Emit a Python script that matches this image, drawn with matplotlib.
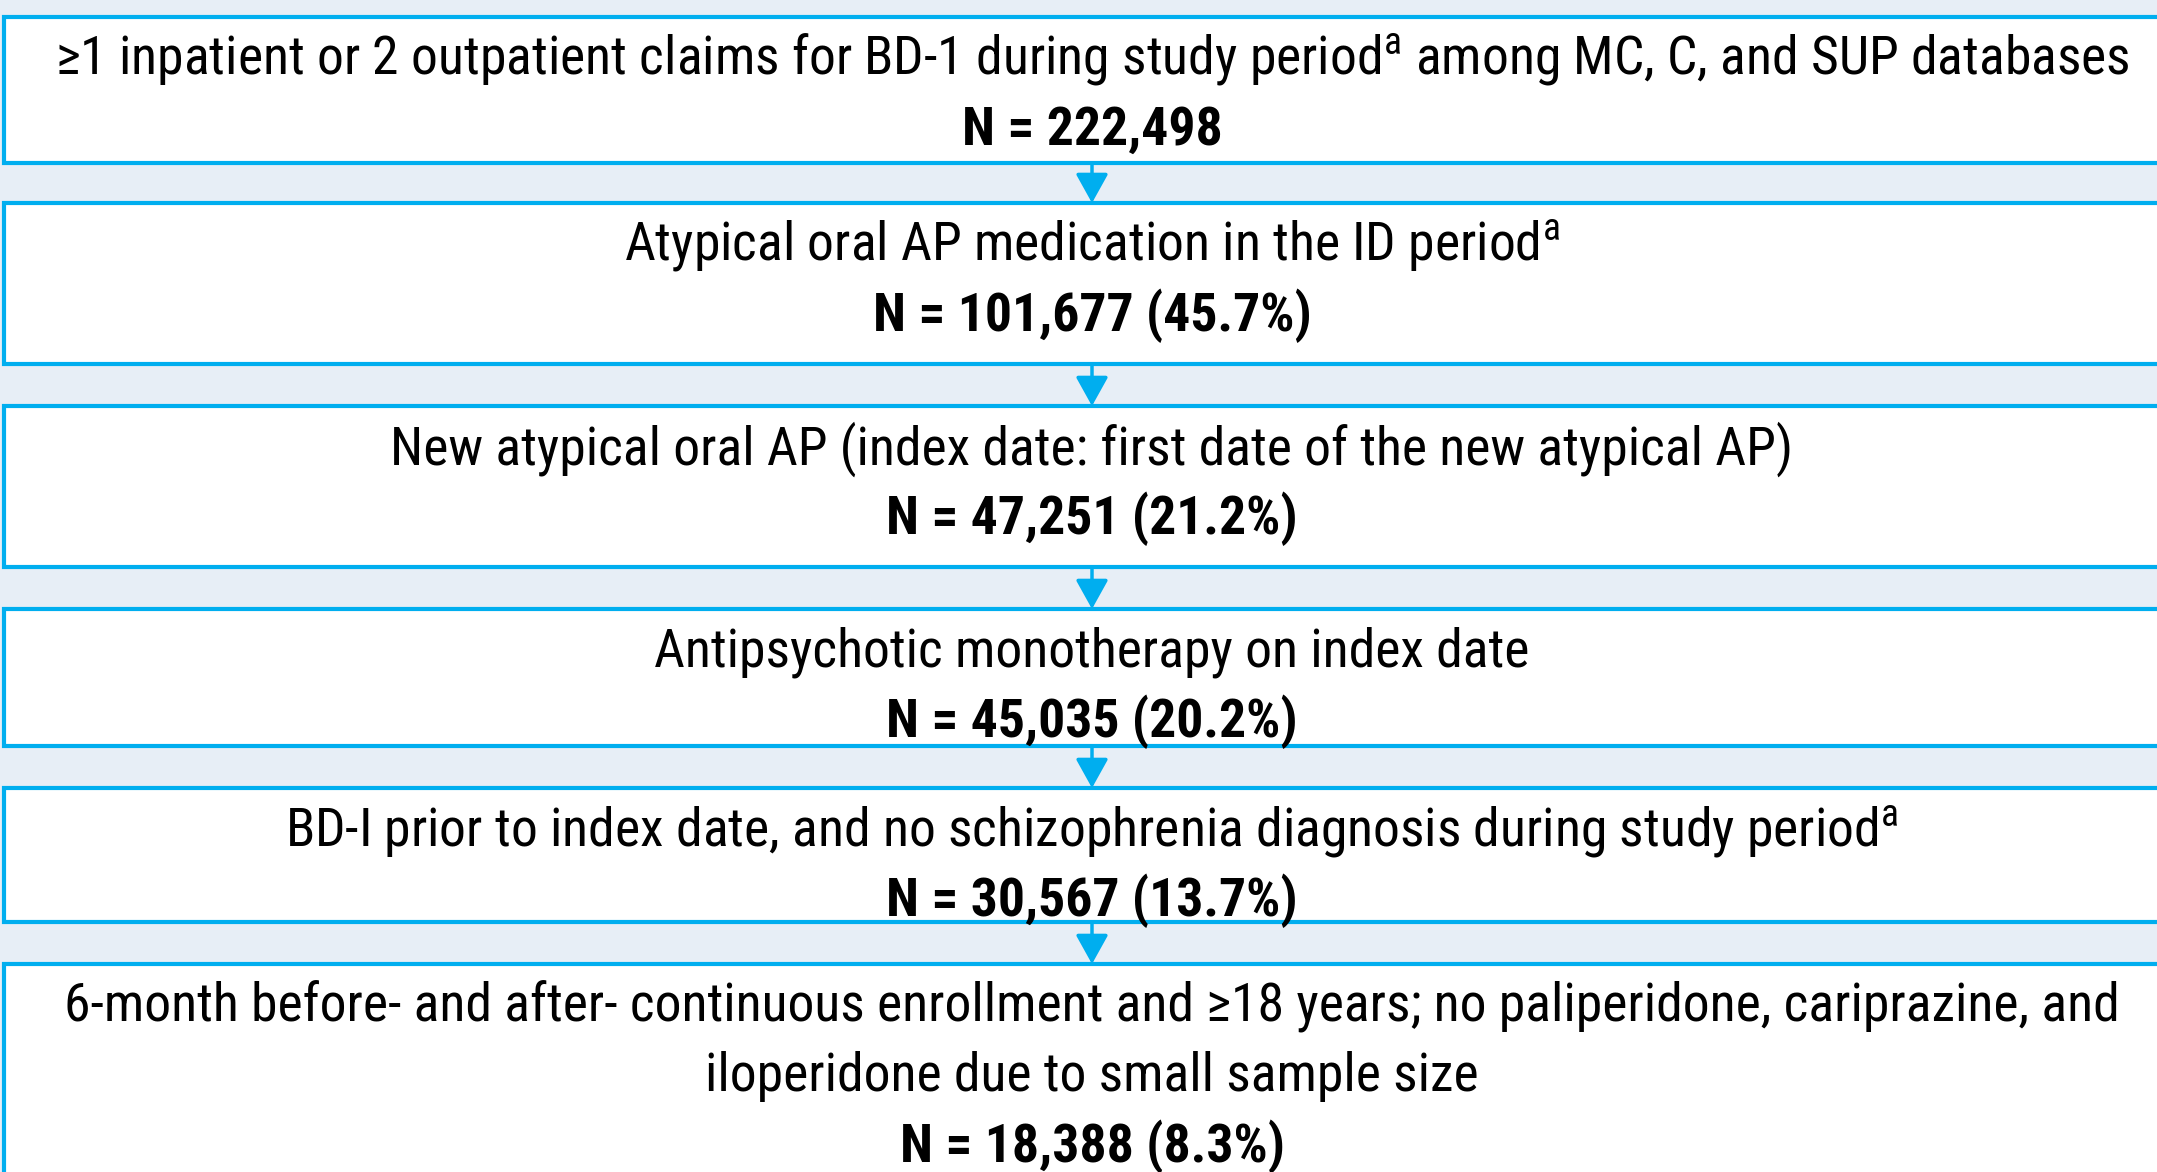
import matplotlib
matplotlib.use("Agg")
import matplotlib.pyplot as plt
from matplotlib import font_manager as fm
from matplotlib.patches import Rectangle

# Flow chart data
criteria = [
    "≥1 inpatient or 2 outpatient claims for BD-1 during study period$^{\\mathrm{a}}$ among MC, C, and SUP databases",
    "Atypical oral AP medication in the ID period$^{\\mathrm{a}}$",
    "New atypical oral AP (index date: first date of the new atypical AP)",
    "Antipsychotic monotherapy on index date",
    "BD-I prior to index date, and no schizophrenia diagnosis during study period$^{\\mathrm{a}}$",
    "6-month before- and after- continuous enrollment and ≥18 years; no paliperidone, cariprazine, and\niloperidone due to small sample size",
]
counts = [222498, 101677, 47251, 45035, 30567, 18388]
pcts = [None, 45.7, 21.2, 20.2, 13.7, 8.3]


# pick a narrow Arial-like face that has a static bold file
def has_face(name, weight):
    try:
        path = fm.findfont(fm.FontProperties(family=name, weight=weight), fallback_to_default=False)
    except ValueError:
        return False
    if weight == "bold":
        return "bold" in path.lower()
    return True


narrow = "DejaVu Sans"
for cand in ["Liberation Sans Narrow", "Arial Narrow", "Roboto Condensed", "PT Sans Narrow",
             "Archivo Narrow", "Asap Condensed"]:
    if has_face(cand, "normal") and has_face(cand, "bold"):
        narrow = cand
        break

plt.rcParams["font.family"] = [narrow, "DejaVu Sans"]
plt.rcParams["mathtext.fontset"] = "custom"
plt.rcParams["mathtext.rm"] = narrow

W, H = 2157, 1172
fig = plt.figure(figsize=(W / 100, H / 100), dpi=100)
fig.patch.set_facecolor("#E7EEF6")
ax = fig.add_axes([0, 0, 1, 1])
ax.set_xlim(0, W)
ax.set_ylim(H, 0)
ax.axis("off")

border = "#00AEEF"
tops = [17, 203, 406, 609, 788, 964]
bots = [163, 364, 567, 746, 922, 1200]
cx = 1092
line_gap = 70
fs = 38.6

for i, (crit, n, p) in enumerate(zip(criteria, counts, pcts)):
    ax.add_patch(Rectangle((4, tops[i]), W + 20, bots[i] - tops[i], facecolor="white",
                           edgecolor=border, linewidth=3, zorder=1))
    lines = crit.split("\n")
    y0 = tops[i] + 43
    for k, ln in enumerate(lines):
        ax.text(cx, y0 + k * line_gap, ln, ha="center", va="center", fontsize=fs, color="black")
    label = f"N = {n:,}" if p is None else f"N = {n:,} ({p}%)"
    ax.text(cx, y0 + len(lines) * line_gap, label, ha="center", va="center",
            fontsize=fs, fontweight="bold", color="black")
    if i < len(criteria) - 1:
        ax.annotate("", xy=(cx, tops[i + 1]), xytext=(cx, bots[i]),
                    arrowprops=dict(arrowstyle="-|>,head_length=0.9,head_width=0.5",
                                    color=border, lw=2.5, shrinkA=0, shrinkB=0,
                                    mutation_scale=20), zorder=2)

fig.savefig("out.png", dpi=100, facecolor=fig.get_facecolor())
